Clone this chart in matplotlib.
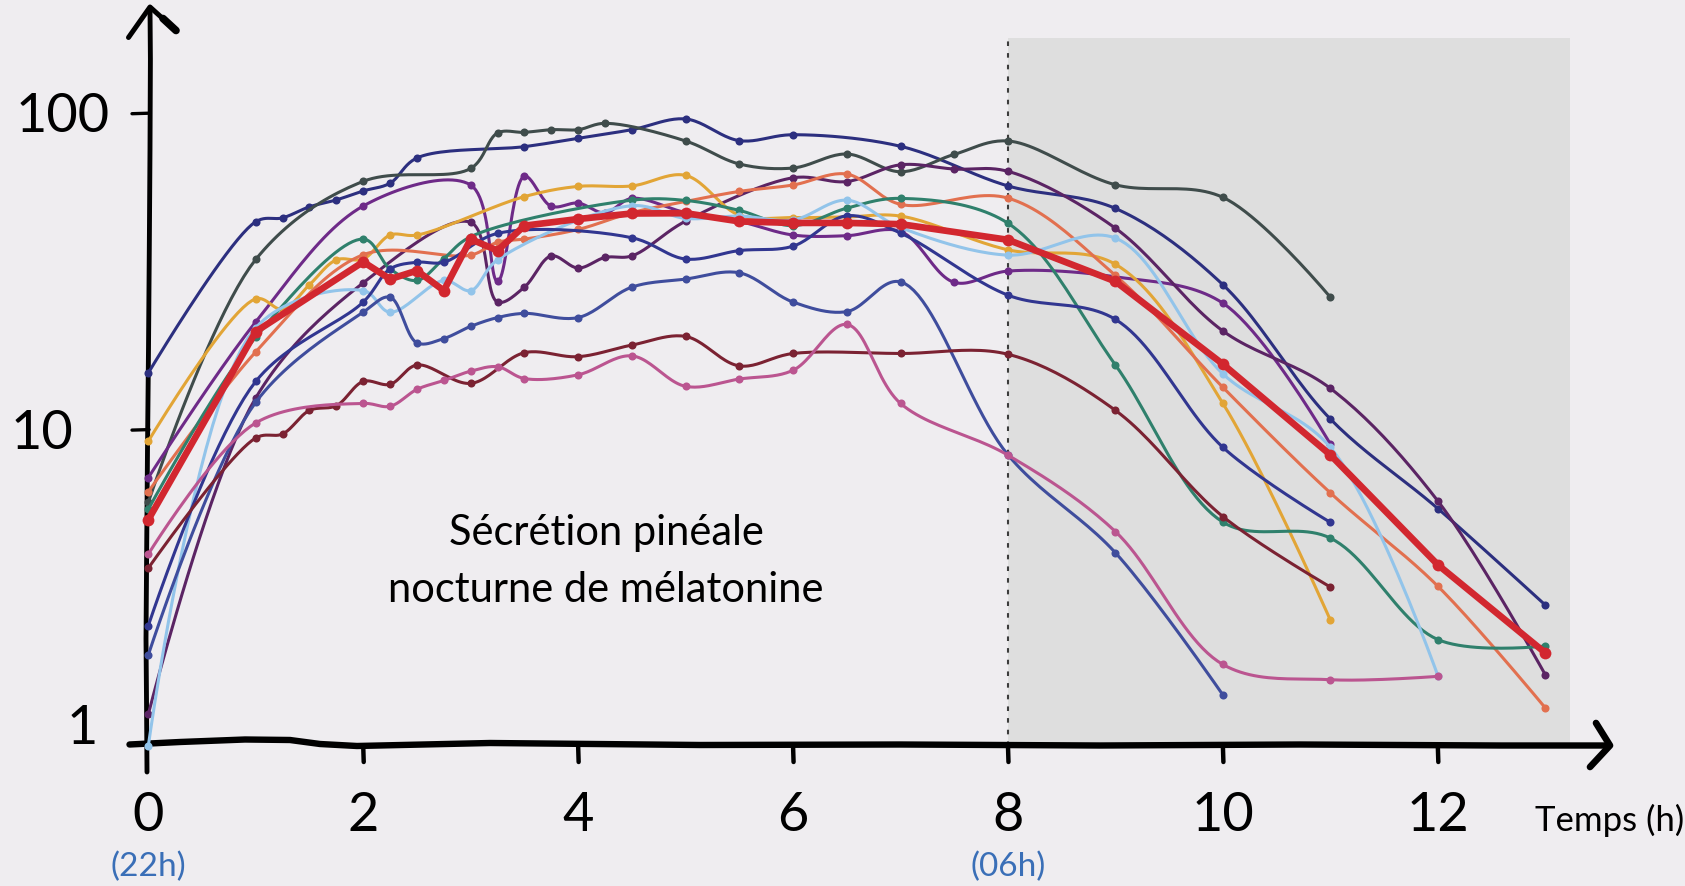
import numpy as np
import matplotlib
matplotlib.use("Agg")
import matplotlib.pyplot as plt
from matplotlib.patches import Rectangle
from matplotlib.transforms import Affine2D, blended_transform_factory

# melatonin curves (x = hours after 22h, y = pg/ml, log scale)
x_a = [0, 1, 1.25, 1.5, 1.75, 2, 2.25, 2.5, 3.5, 4, 4.5, 5, 5.5, 6, 7, 8, 9, 10, 11, 12, 13]
v_a = [15.1, 45.4, 46.7, 50.6, 53.2, 56.8, 60.1, 72.2, 78.4, 83.3, 88.7, 95.9, 81.9, 85.5, 78.6, 58.9, 50.0, 28.7, 10.8, 5.63, 2.79]

x_b = [0, 1, 2, 3, 3.25, 3.5, 3.75, 4, 4.25, 5, 5.5, 6, 6.5, 7, 7.5, 8, 9, 10, 11]
v_b = [5.89, 34.5, 60.9, 66.9, 86.6, 87.0, 88.7, 88.7, 92.9, 81.7, 69.1, 67.1, 74.3, 65.3, 74.1, 81.7, 59.4, 54.2, 26.2]

x_c = [0, 1, 2, 3, 3.25, 3.5, 3.75, 4, 4.25, 4.5, 5, 5.5, 6, 6.5, 7, 7.5, 8, 9, 10, 11]
v_c = [7.05, 21.9, 50.9, 59.3, 29.4, 63.2, 50.8, 52.0, 48.4, 53.8, 48.5, 45.5, 41.2, 41.0, 42.3, 29.2, 31.7, 30.4, 25.1, 9.0]

x_d = [0, 1, 2, 3, 3.25, 3.5, 3.75, 4, 4.25, 4.5, 5, 6, 6.5, 7, 7.5, 8, 9, 10, 11, 12, 13]
v_d = [1.26, 12.6, 29.1, 45.2, 25.3, 28.2, 35.4, 32.4, 35.0, 35.4, 45.6, 62.5, 60.8, 68.7, 66.6, 65.5, 43.3, 20.5, 13.5, 5.95, 1.68]

x_e = [0, 1, 1.25, 1.5, 1.75, 2, 2.25, 2.5, 3.5, 4, 4.5, 5, 5.5, 6, 6.5, 7, 8, 9, 10, 11]
v_e = [9.19, 25.9, 24.0, 28.7, 34.4, 34.6, 41.2, 41.2, 54.5, 58.7, 58.9, 63.6, 47.6, 46.8, 47.0, 47.3, 37.0, 33.3, 12.1, 2.5]

x_f = [0, 1, 2, 3, 3.25, 3.5, 4, 4.5, 5, 5.5, 6, 6.5, 7, 8, 9, 10, 11, 12, 13]
v_f = [6.36, 17.6, 35.7, 35.6, 39.1, 40.0, 42.9, 48.5, 52.6, 56.6, 59.3, 64.2, 51.5, 53.9, 30.7, 13.6, 6.31, 3.2, 1.32]

x_g = [0, 1, 2, 2.25, 2.5, 2.75, 3, 4.5, 5, 5.5, 6, 6.5, 7, 8, 9, 10, 11, 12, 13]
v_g = [5.6, 19.6, 40.0, 32.2, 29.6, 34.7, 40.7, 53.1, 53.0, 49.3, 44.1, 50.1, 53.8, 44.9, 16.0, 5.1, 4.54, 2.17, 2.07]

x_h = [0, 1, 2, 2.25, 2.75, 3, 3.25, 4.5, 5, 5.5, 6, 6.5, 7, 8, 9, 10, 11, 12]
v_h = [1.0, 21.0, 27.5, 23.5, 29.6, 27.5, 34.4, 51.0, 46.5, 47.3, 46.0, 53.1, 43.5, 35.6, 40.3, 15.0, 8.79, 1.67]

x_i = [0, 1, 2, 2.25, 2.5, 2.75, 3, 3.25, 3.5, 4, 4.5, 5, 5.5, 6, 6.5, 7, 8, 9, 10]
v_i = [1.94, 12.2, 23.5, 26.2, 18.8, 19.4, 21.2, 22.6, 23.3, 22.6, 28.2, 29.9, 31.3, 25.3, 23.6, 29.3, 8.32, 4.08, 1.45]

x_j = [0, 1, 2, 2.25, 2.5, 2.75, 3.25, 4.5, 5, 5.5, 6, 6.5, 7, 8, 9, 10, 11]
v_j = [2.40, 14.2, 25.3, 32.2, 33.8, 33.8, 41.7, 40.4, 34.6, 36.8, 38.0, 47.4, 41.8, 26.6, 22.3, 8.79, 5.09]

x_k = [0, 1, 1.25, 1.5, 1.75, 2, 2.25, 2.5, 3, 3.5, 4, 4.5, 5, 5.5, 6, 7, 8, 9, 10, 11]
v_k = [3.65, 9.41, 9.69, 11.5, 11.9, 14.2, 13.9, 16.0, 14.0, 17.5, 17.0, 18.5, 19.7, 15.9, 17.4, 17.4, 17.3, 11.5, 5.31, 3.18]

x_l = [0, 1, 2, 2.25, 2.5, 2.75, 3, 3.25, 3.5, 4, 4.5, 5, 5.5, 6, 6.5, 7, 8, 9, 10, 11, 12]
v_l = [4.04, 10.5, 12.1, 11.85, 13.4, 14.3, 15.3, 15.8, 14.5, 14.9, 17.1, 13.7, 14.45, 15.4, 21.5, 12.1, 8.3, 4.76, 1.81, 1.62, 1.66]

# mean curve (red)
x_mean = [0, 1, 2, 2.25, 2.5, 2.75, 3, 3.25, 3.5, 4, 4.5, 5, 5.5, 6, 6.5, 7, 8, 9, 10, 11, 12, 13]
v_mean = [5.19, 20.4, 33.9, 29.9, 31.8, 27.5, 40.0, 36.8, 44.1, 46.3, 48.2, 48.3, 45.5, 45.0, 45.0, 44.6, 39.8, 29.4, 16.1, 8.32, 3.74, 1.97]

x_ticks = [0, 2, 4, 6, 8, 10, 12]
y_ticks = [100, 10]
day_end = 8        # 06h
shade_end = 13.23

W, H = 1685, 887
X0, SX = 148.3, 107.46   # pixel of hour 0, pixels per hour
Y1, SY = 747.0, 316.4    # pixel of value 1, pixels per decade
BG = '#efedf0'

plt.rcParams['font.family'] = ['Lato', 'DejaVu Sans']


def px(x):
    return X0 + SX * x


def py(v):
    return Y1 - SY * np.log10(v)


def catmull_rom(xs, vs, alpha=0.5, n=24):
    # centripetal catmull-rom, done in screen-like space so it bends like the original
    pts = np.column_stack([np.asarray(xs, float) * SX, np.log10(vs) * SY])
    out = [pts[:1]]
    for i in range(len(pts) - 1):
        p0 = pts[i - 1] if i > 0 else pts[i]
        p1, p2 = pts[i], pts[i + 1]
        p3 = pts[i + 2] if i + 2 < len(pts) else pts[i + 1]
        a01 = np.hypot(*(p1 - p0)) ** alpha
        a12 = np.hypot(*(p2 - p1)) ** alpha
        a23 = np.hypot(*(p3 - p2)) ** alpha
        c1, c2 = p1.copy(), p2.copy()
        if a01 > 1e-9:
            a = 2 * a01 ** 2 + 3 * a01 * a12 + a12 ** 2
            c1 = (p1 * a - p0 * a12 ** 2 + p2 * a01 ** 2) / (3 * a01 * (a01 + a12))
        if a23 > 1e-9:
            b = 2 * a23 ** 2 + 3 * a23 * a12 + a12 ** 2
            c2 = (p2 * b + p1 * a23 ** 2 - p3 * a12 ** 2) / (3 * a23 * (a23 + a12))
        t = np.linspace(0, 1, n)[1:, None]
        out.append((1 - t) ** 3 * p1 + 3 * (1 - t) ** 2 * t * c1 + 3 * (1 - t) * t ** 2 * c2 + t ** 3 * p2)
    c = np.vstack(out)
    return c[:, 0] / SX, 10 ** (c[:, 1] / SY)


fig = plt.figure(figsize=(W / 100, H / 100), dpi=100, facecolor=BG)
ax = fig.add_axes([0, 0, 1, 1])
ax.set_yscale('log')
ax.set_xlim(-X0 / SX, (W - X0) / SX)
ax.set_ylim(10 ** ((Y1 - H) / SY), 10 ** (Y1 / SY))
ax.set_autoscale_on(False)
ax.axis('off')

pix = Affine2D().scale(1, -1).translate(0, H)   # pixel coords, origin top-left
xpix = blended_transform_factory(ax.transData, pix)

# shaded day part + 06h marker
top_v = 10 ** ((Y1 - 39.3) / SY)
ax.add_patch(Rectangle((day_end, 1), shade_end - day_end, top_v - 1,
                       facecolor='#dedede', edgecolor='none', zorder=0))
ax.plot([day_end, day_end], [1, top_v], color='#3c3c3c', lw=1.5,
        ls=(0, (2.2, 3.4)), zorder=1)

# hand drawn axes
k = dict(color='black', solid_capstyle='round', solid_joinstyle='round',
         transform=pix, clip_on=False, zorder=2)
yx = [147, 146.5, 146, 146.6, 147.5, 148.5, 149.3, 150, 150.4, 150]
yy = [773, 700, 640, 560, 450, 350, 250, 150, 60, 9]
ax.plot(yx, yy, lw=3.5, **k)
ax.plot([128.5, 150, 176], [38.5, 8, 31.5], lw=3.6, **k)
ax.plot([163, 176], [19.5, 31.5], lw=5.5, **k)
xx = [129.5, 180, 245, 290, 320, 357, 490, 700, 900, 1100, 1300, 1500, 1608]
xy = [745.5, 743, 740.5, 741, 745, 747, 744, 746, 745.5, 746.5, 745.5, 746.5, 746.5]
ax.plot(xx, xy, lw=4.6, **k)
ax.plot([1596, 1610, 1590], [724, 746.5, 768], lw=4.8, **k)
for t in x_ticks[1:]:
    ax.plot([px(t), px(t) + 0.5], [747, 763], lw=3.2, **k)
for v in y_ticks:
    ax.plot([132, 149], [py(v) + 0.5, py(v)], lw=2.4, **k)

series = [
    (x_a, v_a, '#2c2f7f'),
    (x_b, v_b, '#3f4c4b'),
    (x_c, v_c, '#6e2a88'),
    (x_d, v_d, '#5b2464'),
    (x_e, v_e, '#e2a536'),
    (x_f, v_f, '#e2704f'),
    (x_g, v_g, '#2f806c'),
    (x_h, v_h, '#92c4ea'),
    (x_i, v_i, '#3f4d9d'),
    (x_j, v_j, '#313690'),
    (x_k, v_k, '#7b2232'),
    (x_l, v_l, '#bb5590'),
]
for i, (xs, vs, col) in enumerate(series):
    cx, cv = catmull_rom(xs, vs)
    ax.plot(cx, cv, color=col, lw=2.2, zorder=3 + i * 0.01, solid_capstyle='round')
    ax.plot(xs, vs, 'o', color=col, ms=5.8, mew=0, zorder=3 + i * 0.01)

ax.plot(x_mean, v_mean, color='#d2272f', lw=4.8, zorder=5, solid_joinstyle='round')
ax.plot(x_mean, v_mean, 'o', color='#d2272f', ms=8.5, mew=0, zorder=5)

# labels
for t in x_ticks:
    ax.text(t, 831, str(t), transform=xpix, ha='center', va='baseline', fontsize=39)
ax.text(0, 876, '(22h)', transform=xpix, ha='center', va='baseline', fontsize=24, color='#3a6fb7')
ax.text(day_end, 876, '(06h)', transform=xpix, ha='center', va='baseline', fontsize=24, color='#3a6fb7')
ax.text(1610, 831, 'Temps (h)', transform=pix, ha='center', va='baseline', fontsize=25)
for s, cx_, by in [('100', 63, 132), ('10', 42, 449), ('1', 82.5, 744)]:
    ax.text(cx_, by, s, transform=pix, ha='center', va='baseline', fontsize=39)
ax.text(606, 545, 'Sécrétion pinéale', transform=pix, ha='center', va='baseline', fontsize=30)
ax.text(606, 602, 'nocturne de mélatonine', transform=pix, ha='center', va='baseline', fontsize=30)

fig.savefig('out.png', dpi=100, facecolor=BG)
